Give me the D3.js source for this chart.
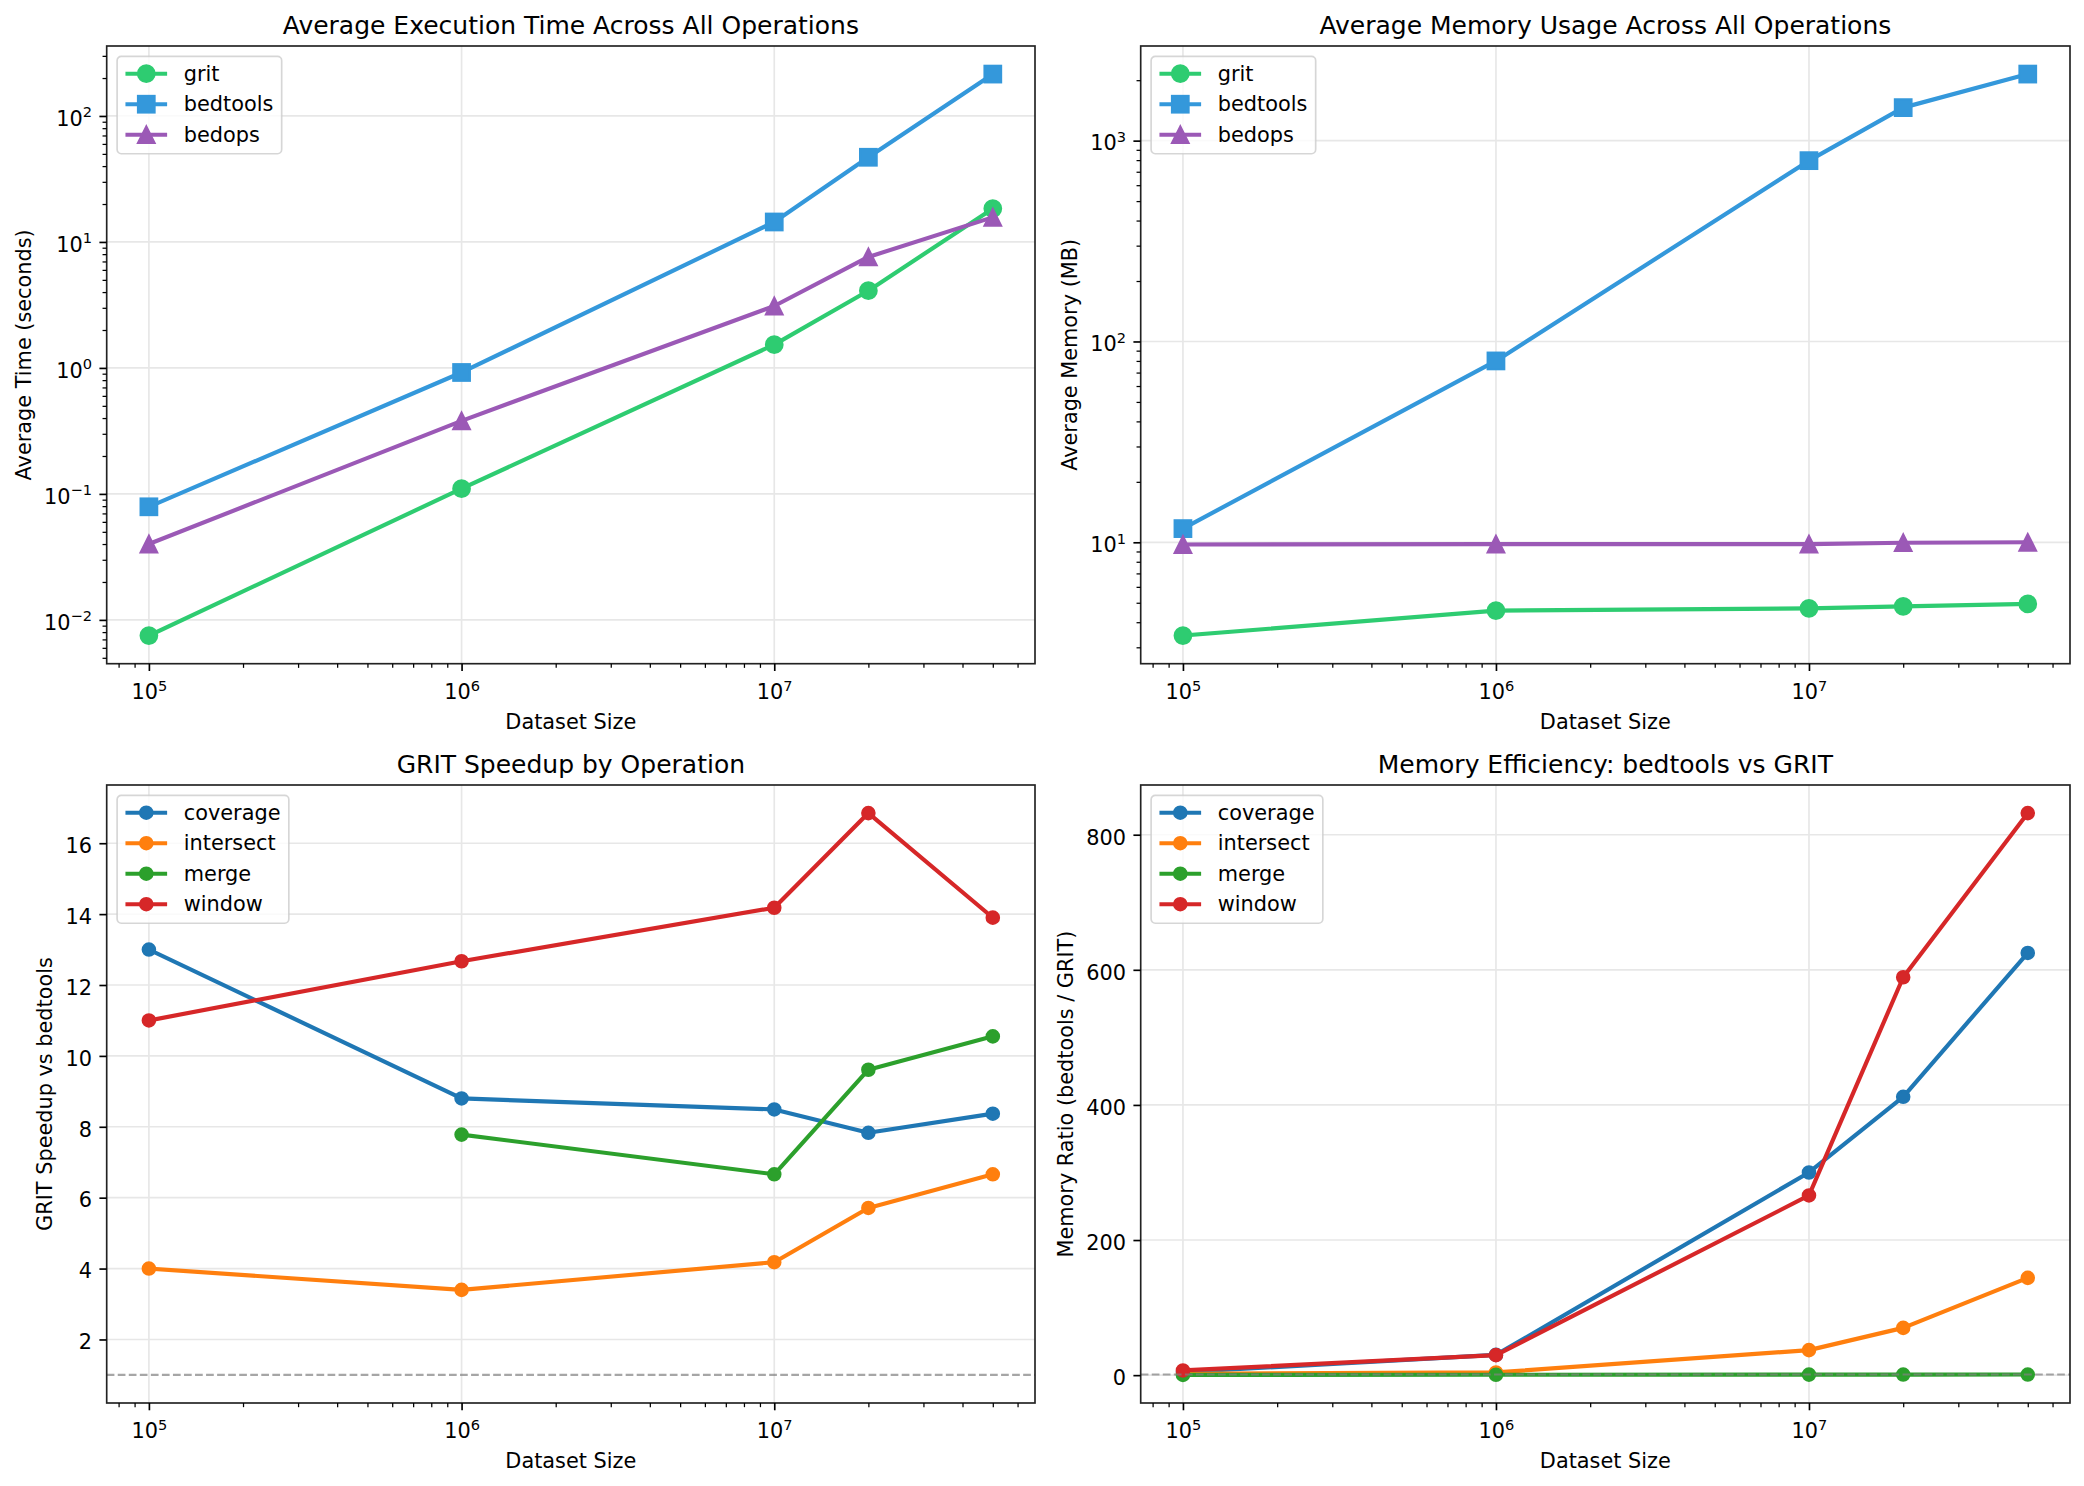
<!DOCTYPE html>
<html>
<head>
<meta charset="utf-8">
<script src="https://cdn.jsdelivr.net/npm/d3@7"></script>
<style>
  body { margin: 0; background: #fff; }
  svg { display: block; }
  text { font-family: "DejaVu Sans", sans-serif; fill: #000; }
</style>
</head>
<body>
<svg id="fig" width="2084" height="1486"></svg>
<script>
// ---- data ----
const sizes = [1e5, 1e6, 1e7, 2e7, 5e7];

const tools = ['grit', 'bedtools', 'bedops'];
const gritTime = [0.0075, 0.11, 1.53, 4.1, 18.4];
const bedtoolsTime = [0.079, 0.92, 14.4, 47, 215];
const bedopsTime = [0.04, 0.38, 3.1, 7.6, 15.7];

const gritMem = [3.43, 4.57, 4.69, 4.8, 4.93];
const bedtoolsMem = [11.7, 80, 795, 1460, 2145];
const bedopsMem = [9.75, 9.8, 9.8, 9.95, 10.0];

const operations = ['coverage', 'intersect', 'merge', 'window'];
const speedupCoverage = [13.0, 8.8, 8.49, 7.83, 8.37];
const speedupIntersect = [4.0, 3.4, 4.18, 5.71, 6.66];
const speedupMerge = [NaN, 7.78, 6.66, 9.61, 10.55];
const speedupWindow = [11.0, 12.67, 14.18, 16.85, 13.9];

const ratioCoverage = [4.5, 30, 300, 412, 625];
const ratioIntersect = [2, 4, 37, 70, 144];
const ratioMerge = [0.35, 0.6, 0.8, 0.85, 0.9];
const ratioWindow = [7, 29.6, 266, 589, 832];

const speedupTicks = [2, 4, 6, 8, 10, 12, 14, 16];
const ratioTicks = [0, 200, 400, 600, 800];

// ---- styling ----
const PT = 150 / 72;
const FS = 10 * PT;
const toolColors = ['#2ecc71', '#3498db', '#9b59b6'];
const toolMarkers = ['circle', 'square', 'triangle'];
const opColors = ['#1f77b4', '#ff7f0e', '#2ca02c', '#d62728'];

const svg = d3.select('#fig');

function logDomain(vals) {
    const [a, b] = d3.extent(vals);
    const lo = Math.log10(a), hi = Math.log10(b), m = (hi - lo) * 0.05;
    return [Math.pow(10, lo - m), Math.pow(10, hi + m)];
}
function linDomain(vals) {
    const [lo, hi] = d3.extent(vals);
    const m = (hi - lo) * 0.05;
    return [lo - m, hi + m];
}
function logMajors(dom) {
    const out = [];
    for (let e = Math.ceil(Math.log10(dom[0]) - 1e-9); e <= Math.floor(Math.log10(dom[1]) + 1e-9); e++) out.push(Math.pow(10, e));
    return out;
}
function logMinors(dom) {
    const out = [];
    for (let e = Math.floor(Math.log10(dom[0])); e <= Math.ceil(Math.log10(dom[1])); e++) {
        for (let k = 2; k <= 9; k++) {
            const v = k * Math.pow(10, e);
            if (v >= dom[0] && v <= dom[1]) out.push(v);
        }
    }
    return out;
}
// write "10^e" with a raised exponent
function powLabel(sel) {
    sel.each(function(d) {
        const t = d3.select(this).text(null);
        const e = Math.round(Math.log10(d));
        t.append('tspan').text('10');
        t.append('tspan').attr('dy', -8.3).attr('font-size', 0.7 * FS)
            .text(e < 0 ? '\u2212' + (-e) : String(e));
    });
}

function drawMarker(g, type, cx, cy, size, color) {
    const h = size * PT / 2;
    let m;
    if (type === 'circle') {
        m = g.append('circle').attr('cx', cx).attr('cy', cy).attr('r', h);
    } else if (type === 'square') {
        m = g.append('rect').attr('x', cx - h).attr('y', cy - h).attr('width', 2 * h).attr('height', 2 * h);
    } else {
        m = g.append('path').attr('d', `M${cx},${cy - h}L${cx - h},${cy + h}L${cx + h},${cy + h}Z`);
    }
    m.attr('fill', color).attr('stroke', color).attr('stroke-width', PT).attr('stroke-linejoin', 'miter');
}

function panel(opt) {
    const { left, right, top, bottom } = opt.box;
    const g = svg.append('g');

    const x = d3.scaleLog().domain(logDomain(sizes)).range([left, right]);
    const allY = opt.series.flatMap(s => s.values).filter(v => !isNaN(v));
    if (opt.hline != null) allY.push(opt.hline);
    const y = (opt.log ? d3.scaleLog().domain(logDomain(allY)) : d3.scaleLinear().domain(linDomain(allY)))
        .range([bottom, top]);

    const xMajor = logMajors(x.domain());
    const yMajor = opt.log ? logMajors(y.domain()) : opt.yTicks;

    // grid
    const grid = g.append('g').attr('stroke', '#e7e7e7').attr('stroke-width', 0.8 * PT);
    grid.selectAll('.gx').data(xMajor).join('line')
        .attr('x1', d => x(d)).attr('x2', d => x(d)).attr('y1', top).attr('y2', bottom);
    grid.selectAll('.gy').data(yMajor).join('line')
        .attr('y1', d => y(d)).attr('y2', d => y(d)).attr('x1', left).attr('x2', right);

    // series
    const line = d3.line().defined(d => !isNaN(d[1])).x(d => x(d[0])).y(d => y(d[1]));
    opt.series.forEach(s => {
        const sg = g.append('g');
        const pts = sizes.map((v, i) => [v, s.values[i]]);
        sg.append('path').attr('d', line(pts)).attr('fill', 'none')
            .attr('stroke', s.color).attr('stroke-width', 2 * PT)
            .attr('stroke-linejoin', 'round').attr('stroke-linecap', 'square');
        pts.filter(p => !isNaN(p[1])).forEach(p => drawMarker(sg, s.marker, x(p[0]), y(p[1]), s.ms, s.color));
    });

    if (opt.hline != null) {
        g.append('line').attr('x1', left).attr('x2', right)
            .attr('y1', y(opt.hline)).attr('y2', y(opt.hline))
            .attr('stroke', '#808080').attr('stroke-opacity', 0.7)
            .attr('stroke-width', PT).attr('stroke-dasharray', `${3.7 * PT},${1.6 * PT}`);
    }

    // spines
    g.append('rect').attr('x', left).attr('y', top).attr('width', right - left).attr('height', bottom - top)
        .attr('fill', 'none').attr('stroke', '#222').attr('stroke-width', 0.8 * PT);

    // x axis
    const xMinorAxis = g.append('g').attr('transform', `translate(0,${bottom})`)
        .call(d3.axisBottom(x).tickValues(logMinors(x.domain())).tickSize(2 * PT).tickSizeOuter(0).tickFormat(''));
    const xAxis = g.append('g').attr('transform', `translate(0,${bottom})`)
        .call(d3.axisBottom(x).tickValues(xMajor).tickSize(3.5 * PT).tickSizeOuter(0));
    xMinorAxis.selectAll('line').attr('stroke-width', 0.6 * PT);
    xAxis.selectAll('line').attr('stroke-width', 0.8 * PT);
    xAxis.selectAll('text').attr('y', 35.3).attr('dy', null).attr('font-size', FS).call(powLabel);

    // y axis
    let yAxis;
    if (opt.log) {
        const yMinorAxis = g.append('g').attr('transform', `translate(${left},0)`)
            .call(d3.axisLeft(y).tickValues(logMinors(y.domain())).tickSize(2 * PT).tickSizeOuter(0).tickFormat(''));
        yMinorAxis.selectAll('line').attr('stroke-width', 0.6 * PT);
        yAxis = g.append('g').attr('transform', `translate(${left},0)`)
            .call(d3.axisLeft(y).tickValues(yMajor).tickSize(3.5 * PT).tickSizeOuter(0));
        yAxis.selectAll('text').call(powLabel);
    } else {
        yAxis = g.append('g').attr('transform', `translate(${left},0)`)
            .call(d3.axisLeft(y).tickValues(yMajor).tickSize(3.5 * PT).tickSizeOuter(0).tickFormat(d3.format('d')));
    }
    yAxis.selectAll('line').attr('stroke-width', 0.8 * PT);
    yAxis.selectAll('text').attr('x', -7 * PT).attr('dy', null).attr('y', 9.3).attr('font-size', FS);
    g.selectAll('.domain').remove();
    g.selectAll('.tick').attr('color', '#000');
    g.selectAll('.tick text').attr('font-family', '"DejaVu Sans", sans-serif');

    // labels
    g.append('text').attr('x', (left + right) / 2).attr('y', top - 12)
        .attr('text-anchor', 'middle').attr('font-size', 12 * PT).text(opt.title);
    g.append('text').attr('x', (left + right) / 2).attr('y', bottom + 65.3)
        .attr('text-anchor', 'middle').attr('font-size', FS).text('Dataset Size');
    let tlLeft = left;
    yAxis.selectAll('text').each(function() {
        const b = this.getBBox();
        tlLeft = Math.min(tlLeft, left + b.x);
    });
    const lx = tlLeft - 4 * PT - 0.236 * FS;
    g.append('text').attr('transform', `translate(${lx},${(top + bottom) / 2}) rotate(-90)`)
        .attr('text-anchor', 'middle').attr('font-size', FS).text(opt.ylabel);

    // legend
    const lg = g.append('g').attr('transform', `translate(${left + 0.5 * FS},${top + 0.5 * FS})`);
    const frame = lg.append('rect');
    const rowH = 30.5, first = 17.3;
    const textX = 0.4 * FS + 2 * FS + 0.8 * FS;
    let maxW = 0;
    opt.series.forEach((s, i) => {
        const cy = first + i * rowH;
        lg.append('line').attr('x1', 0.4 * FS).attr('x2', 0.4 * FS + 2 * FS).attr('y1', cy).attr('y2', cy)
            .attr('stroke', s.color).attr('stroke-width', 2 * PT);
        drawMarker(lg, s.marker, 0.4 * FS + FS, cy, s.ms, s.color);
        const t = lg.append('text').attr('x', textX).attr('y', cy + 7).attr('font-size', FS).text(s.name);
        maxW = Math.max(maxW, t.node().getComputedTextLength());
    });
    const boxH = first * 2 + (opt.series.length - 1) * rowH + 1.7;
    frame.attr('x', 0).attr('y', 0).attr('width', textX + maxW + 0.4 * FS).attr('height', boxH)
        .attr('rx', 0.2 * FS).attr('fill', '#fff').attr('fill-opacity', 0.8)
        .attr('stroke', '#cccccc').attr('stroke-opacity', 0.8).attr('stroke-width', 0.8 * PT);
}

const colL = { left: 106.7, right: 1035 };
const colR = { left: 1140.7, right: 2070 };
const rowT = { top: 46, bottom: 663.7 };
const rowB = { top: 785, bottom: 1403 };

panel({
    box: { ...colL, ...rowT }, log: true,
    title: 'Average Execution Time Across All Operations',
    ylabel: 'Average Time (seconds)',
    series: [gritTime, bedtoolsTime, bedopsTime].map((v, i) =>
        ({ name: tools[i], values: v, color: toolColors[i], marker: toolMarkers[i], ms: 8 }))
});
panel({
    box: { ...colR, ...rowT }, log: true,
    title: 'Average Memory Usage Across All Operations',
    ylabel: 'Average Memory (MB)',
    series: [gritMem, bedtoolsMem, bedopsMem].map((v, i) =>
        ({ name: tools[i], values: v, color: toolColors[i], marker: toolMarkers[i], ms: 8 }))
});
panel({
    box: { ...colL, ...rowB }, log: false, yTicks: speedupTicks, hline: 1,
    title: 'GRIT Speedup by Operation',
    ylabel: 'GRIT Speedup vs bedtools',
    series: [speedupCoverage, speedupIntersect, speedupMerge, speedupWindow].map((v, i) =>
        ({ name: operations[i], values: v, color: opColors[i], marker: 'circle', ms: 6 }))
});
panel({
    box: { ...colR, ...rowB }, log: false, yTicks: ratioTicks, hline: 1,
    title: 'Memory Efficiency: bedtools vs GRIT',
    ylabel: 'Memory Ratio (bedtools / GRIT)',
    series: [ratioCoverage, ratioIntersect, ratioMerge, ratioWindow].map((v, i) =>
        ({ name: operations[i], values: v, color: opColors[i], marker: 'circle', ms: 6 }))
});
</script>
</body>
</html>
